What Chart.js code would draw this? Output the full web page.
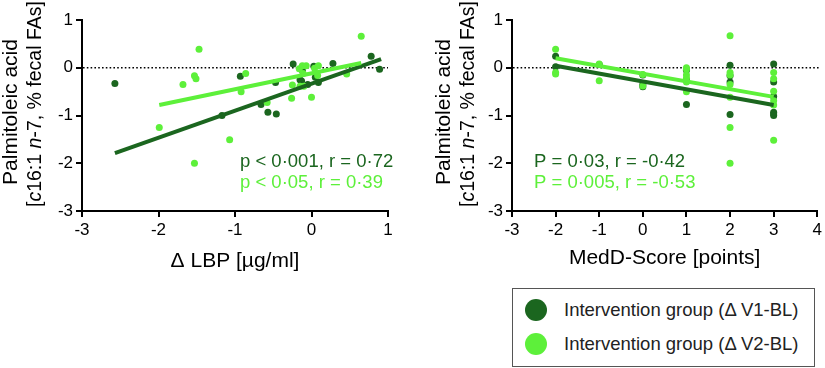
<!DOCTYPE html>
<html>
<head>
<meta charset="utf-8">
<script src="https://cdn.jsdelivr.net/npm/chart.js@4.4.1/dist/chart.umd.min.js"></script>
<style>
  body { margin: 0; background: #fff; width: 825px; height: 368px; position: relative; overflow: hidden; }
  canvas { position: absolute; top: 0; }
  #legend { position: absolute; left: 512px; top: 288px; width: 301px; height: 77px; border: 1px solid #555;
            font-family: "Liberation Sans", Arial, sans-serif; font-size: 18.5px; color: #222; }
  .row { position: absolute; left: 0; height: 24px; line-height: 24px; }
  .dot { position: absolute; left: 12px; top: 1px; width: 22px; height: 22px; border-radius: 50%; }
  .lbl { position: absolute; left: 51px; white-space: nowrap; }
</style>
</head>
<body>
<canvas id="lbp" width="412" height="280" style="left:0px"></canvas>
<canvas id="medd" width="405" height="280" style="left:420px"></canvas>
<div id="legend">
  <div class="row" style="top:9px"><div class="dot" style="background:#1b661f"></div><div class="lbl">Intervention group (Δ V1-BL)</div></div>
  <div class="row" style="top:43px"><div class="dot" style="background:#5df03a"></div><div class="lbl">Intervention group (Δ V2-BL)</div></div>
</div>
<script>
const darkGreen = '#1b661f';
const lightGreen = '#5df03a';
const FONT = '"Liberation Sans", Arial, sans-serif';

// left panel: delta LBP vs palmitoleic acid
const lbpV1x = [-2.57, -1.17, -0.93, -0.66, -0.57, -0.46, -0.47, -0.24, -0.15, -0.13, -0.12, 0.03, 0.05, 0.09, 0.28, 0.78, 0.89, -0.05];
const lbpV1y = [-0.33, -1.0, -0.18, -0.77, -0.93, -0.97, -0.31, 0.08, -0.25, -0.28, -0.05, 0.03, -0.2, -0.31, 0.09, 0.24, -0.03, -0.35];
const lbpV2x = [-1.47, -1.53, -1.51, -1.68, -1.99, -1.53, -1.07, -0.92, -0.86, -0.58, -0.25, -0.26, 0.0, -0.16, -0.12, -0.1, -0.15, -0.11, 0.08, 0.04, 0.09, -0.07, 0.46, 0.65];
const lbpV2y = [0.39, -0.17, -0.23, -0.35, -1.25, -2.0, -1.51, -0.5, -0.12, -0.73, -0.36, -0.64, -0.62, -0.02, 0.04, -0.39, -0.39, -0.12, -0.16, -0.01, 0.04, 0.04, -0.13, 0.66];
const lbpFitV1x = [-2.57, 0.91];
const lbpFitV1y = [-1.79, 0.18];
const lbpFitV2x = [-1.99, 0.65];
const lbpFitV2y = [-0.78, 0.10];

// right panel: MedD-Score vs palmitoleic acid
const meddV1x = [-2, -2, -1, 0, 0, 0, 1, 1, 1, 2, 2, 2, 2, 3, 3, 3, 3, 3, 3];
const meddV1y = [0.24, 0.02, 0.07, -0.15, -0.35, -0.4, -0.05, -0.25, -0.77, 0.05, -0.17, -0.3, -0.98, 0.08, -0.3, -0.6, -0.93, -1.0, -0.97];
const meddV2x = [-2, -2, -2, -1, -1, 0, 0, 1, 1, 1, 1, 1, 1, 2, 2, 2, 2, 2, 2, 2, 3, 3, 3, 3, 3, 3];
const meddV2y = [0.39, -0.1, -0.13, 0.08, -0.27, -0.14, -0.38, 0.0, -0.03, -0.15, -0.22, -0.3, -0.5, 0.67, -0.1, -0.15, -0.35, -0.62, -1.25, -2.0, -0.1, -0.23, -0.49, -0.69, -0.78, -1.52];
const meddFitV1x = [-2, 3];
const meddFitV1y = [0.04, -0.78];
const meddFitV2x = [-2, 3];
const meddFitV2y = [0.2, -0.61];

const yTitle1 = [{t: 'Palmitoleic acid'}];
const yTitle2 = [{t: '['}, {t: 'c', i: true}, {t: '16:1 '}, {t: 'n', i: true}, {t: '-7, % fecal FAs]'}];

function pts(xs, ys) {
  return xs.map((x, k) => ({x: x, y: ys[k]}));
}

// draws rotated text made of plain and italic pieces
function drawRich(ctx, parts, x, y, align, size) {
  ctx.save();
  ctx.translate(x, y);
  ctx.rotate(-Math.PI / 2);
  ctx.textBaseline = 'middle';
  ctx.fillStyle = '#000';
  let total = 0;
  parts.forEach(p => {
    ctx.font = (p.i ? 'italic ' : '') + size + 'px ' + FONT;
    p.w = ctx.measureText(p.t).width;
    total += p.w;
  });
  let pos = align === 'center' ? -total / 2 : 0;
  ctx.textAlign = 'left';
  parts.forEach(p => {
    ctx.font = (p.i ? 'italic ' : '') + size + 'px ' + FONT;
    ctx.fillText(p.t, pos, 0);
    pos += p.w;
  });
  ctx.restore();
}

const extras = {
  id: 'extras',
  beforeDatasetsDraw(chart, args, o) {
    const {ctx, chartArea} = chart;
    const y0 = chart.scales.y.getPixelForValue(0);
    ctx.save();
    ctx.strokeStyle = '#000';
    ctx.lineWidth = 1.6;
    ctx.setLineDash([1.6, 2.2]);
    ctx.beginPath();
    ctx.moveTo(chartArea.left + 1, y0);
    ctx.lineTo(chartArea.right + o.dotExtra, y0);
    ctx.stroke();
    ctx.restore();
  },
  afterDraw(chart, args, o) {
    const ctx = chart.ctx;
    drawRich(ctx, yTitle1, o.t1x, 112, 'center', 21);
    drawRich(ctx, yTitle2, o.t2x, 207, 'left', 19.5);
    ctx.save();
    ctx.font = '18.5px ' + FONT;
    ctx.textAlign = 'left';
    ctx.textBaseline = 'middle';
    ctx.fillStyle = darkGreen;
    ctx.fillText(o.note1, o.noteX, 162);
    ctx.fillStyle = lightGreen;
    ctx.fillText(o.note2, o.noteX, 183);
    ctx.restore();
  }
};

function makeChart(id, cfg) {
  const axis = (min, max, extra) => Object.assign({
    type: 'linear', min: min, max: max,
    grid: {drawOnChartArea: false, drawTicks: true, tickLength: 6, color: '#000', lineWidth: 2},
    border: {display: true, color: '#000', width: 2},
    ticks: {stepSize: 1, color: '#000', font: {family: FONT, size: 17}}
  }, extra);

  return new Chart(document.getElementById(id), {
    type: 'scatter',
    data: {
      datasets: [
        {data: pts(cfg.fit2x, cfg.fit2y), showLine: true, borderColor: lightGreen, borderWidth: 4, pointRadius: 0, order: 0},
        {data: pts(cfg.fit1x, cfg.fit1y), showLine: true, borderColor: darkGreen, borderWidth: 4, pointRadius: 0, order: 1},
        {data: pts(cfg.v2x, cfg.v2y), backgroundColor: lightGreen, borderWidth: 0, pointRadius: 3.5, order: 2},
        {data: pts(cfg.v1x, cfg.v1y), backgroundColor: darkGreen, borderWidth: 0, pointRadius: 3.5, order: 3}
      ]
    },
    options: {
      responsive: false,
      animation: false,
      devicePixelRatio: 1,
      layout: {padding: {top: 20, right: cfg.padRight, bottom: 0, left: 0}},
      plugins: {
        legend: {display: false},
        tooltip: {enabled: false},
        extras: cfg.extras
      },
      scales: {
        x: axis(cfg.xmin, cfg.xmax, {
          title: {display: true, text: cfg.xTitle, color: '#000', font: {family: FONT, size: 21}, padding: {top: 0, bottom: cfg.titlePad}},
          afterFit: s => { s.height = 69; }
        }),
        y: axis(-3, 1, {
          afterFit: s => { s.width = cfg.yWidth; }
        })
      }
    },
    plugins: [extras]
  });
}

makeChart('lbp', {
  v1x: lbpV1x, v1y: lbpV1y, v2x: lbpV2x, v2y: lbpV2y,
  fit1x: lbpFitV1x, fit1y: lbpFitV1y, fit2x: lbpFitV2x, fit2y: lbpFitV2y,
  xmin: -3, xmax: 1, xTitle: 'Δ LBP [µg/ml]', titlePad: 6,
  yWidth: 82, padRight: 24,
  extras: {dotExtra: 0, t1x: 11, t2x: 36, noteX: 240, note1: 'p < 0·001, r = 0·72', note2: 'p < 0·05, r = 0·39'}
});

makeChart('medd', {
  v1x: meddV1x, v1y: meddV1y, v2x: meddV2x, v2y: meddV2y,
  fit1x: meddFitV1x, fit1y: meddFitV1y, fit2x: meddFitV2x, fit2y: meddFitV2y,
  xmin: -3, xmax: 4, xTitle: 'MedD-Score [points]', titlePad: 9,
  yWidth: 92, padRight: 5,
  extras: {dotExtra: 3, t1x: 24, t2x: 49, noteX: 114, note1: 'P = 0·03, r = -0·42', note2: 'P = 0·005, r = -0·53'}
});
</script>
</body>
</html>
